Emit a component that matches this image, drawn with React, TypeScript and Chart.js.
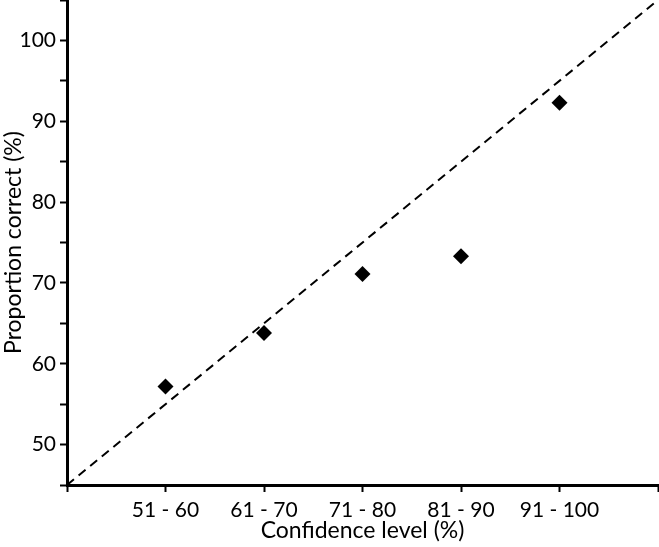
import React, { useEffect, useRef } from "react";
import { Chart, registerables } from "chart.js";
Chart.register(...registerables);

const categories = ["51 - 60", "61 - 70", "71 - 80", "81 - 90", "91 - 100"];
const proportionCorrect = [57.2, 63.8, 71.1, 73.3, 92.3];
const referenceLine = [
  { x: 0, y: 45 },
  { x: 6, y: 105 },
];

const W = 666;
const H = 555;

export default function App() {
  const ref = useRef<HTMLCanvasElement | null>(null);
  useEffect(() => {
    if (!ref.current) return;
    const font = "Lato, 'Open Sans', sans-serif";
    const chart = new Chart(ref.current, {
      type: "scatter",
      data: {
        datasets: [
          {
            type: "line",
            data: referenceLine,
            borderColor: "#000",
            borderWidth: 2,
            borderDash: [9, 6],
            pointRadius: 0,
            fill: false,
          },
          {
            type: "scatter",
            data: proportionCorrect.map((v, i) => ({ x: i + 1, y: v })),
            pointStyle: "rectRot",
            pointRadius: 8,
            pointBackgroundColor: "#000",
            pointBorderColor: "#000",
            pointBorderWidth: 0,
          },
        ],
      },
      options: {
        animation: false,
        responsive: false,
        maintainAspectRatio: false,
        layout: { padding: 0 },
        plugins: { legend: { display: false }, tooltip: { enabled: false } },
        scales: {
          x: {
            type: "linear",
            min: 0,
            max: 6,
            afterFit: (s: any) => {
              s.height = 62;
            },
            border: { color: "#000", width: 3 },
            grid: {
              drawOnChartArea: false,
              drawTicks: true,
              tickLength: 7,
              tickColor: "#000",
              tickWidth: 2,
            },
            ticks: {
              stepSize: 1,
              color: "#000",
              font: { family: font, size: 21 },
              padding: 6,
              maxRotation: 0,
              callback: (v: any) => {
                const i = Number(v) - 1;
                return categories[i] ?? "";
              },
            },
            title: {
              display: true,
              text: "Confidence level (%)",
              color: "#000",
              font: { family: font, size: 23 },
              padding: { top: 0, bottom: 3 },
            },
          },
          y: {
            type: "linear",
            min: 45,
            max: 105,
            afterFit: (s: any) => {
              s.width = 67;
              s.paddingTop = 0;
              s.paddingBottom = 0;
            },
            border: { color: "#000", width: 3 },
            grid: {
              drawOnChartArea: false,
              drawTicks: true,
              tickLength: 7,
              tickColor: "#000",
              tickWidth: 2,
            },
            ticks: {
              stepSize: 5,
              color: "#000",
              font: { family: font, size: 21 },
              padding: 4,
              callback: (v: any) => (Number(v) % 10 === 0 ? String(v) : ""),
            },
            title: {
              display: true,
              text: "Proportion correct (%)",
              color: "#000",
              font: { family: font, size: 23 },
              padding: { top: 0, bottom: 0 },
            },
          },
        },
      },
    });
    return () => chart.destroy();
  }, []);
  return (
    <div style={{ position: "absolute", left: 0, top: 0, width: 659, height: 547, overflow: "hidden", background: "#fff" }}>
      <canvas
        ref={ref}
        width={W}
        height={H}
        style={{ position: "absolute", left: 0, top: -8, width: W, height: H }}
      />
    </div>
  );
}
